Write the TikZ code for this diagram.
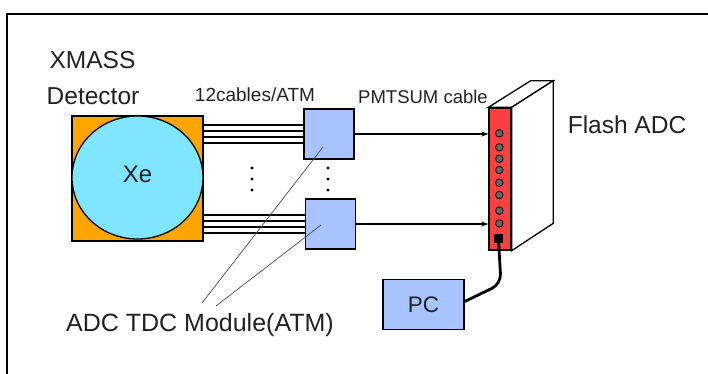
\documentclass[tikz,border=0pt]{standalone}
\usepackage{fontspec}
\setmainfont{Liberation Sans}
\usetikzlibrary{calc,arrows.meta}
\definecolor{detorange}{HTML}{FFA500}
\definecolor{xecyan}{HTML}{80E6FF}
\definecolor{atmblue}{HTML}{A8C4FF}
\definecolor{adcred}{HTML}{FF4040}
\definecolor{txtgray}{HTML}{222222}
\tikzset{
  box/.style={draw=black, line width=1.3pt, fill=atmblue, minimum width=50pt, minimum height=50pt, inner sep=0pt},
  cable/.style={line width=1.6pt},
  sig/.style={line width=1.1pt, -{Stealth[length=7pt,width=5pt]}},
  leader/.style={draw=black!70, line width=0.7pt},
  lbl/.style={text=txtgray, inner sep=0pt},
  port/.style={circle, draw=black, line width=0.8pt, fill=black!60, minimum size=7.5pt, inner sep=0pt},
}
\begin{document}
\begin{tikzpicture}[x=1pt,y=-1pt]
\clip (0,0) rectangle (708,373);
\useasboundingbox (0,0) rectangle (708,373);
\fill[white] (0,0) rectangle (708,373);
% frame (only left and top visible)
\draw[line width=2pt] (7,400) -- (7,14) -- (730,14);

% detector
\node[draw=black, line width=1.3pt, fill=detorange, minimum width=131pt, minimum height=125pt, inner sep=0pt] (det) at (137.5,178.5) {};
\draw[line width=1.3pt, fill=xecyan] (137.5,177.5) ellipse [x radius=65.5, y radius=61.5];
\node[lbl, font=\fontsize{24}{26}\selectfont] (xe) at (137.5,174) {Xe};
\node[lbl, font=\fontsize{24.5}{26}\selectfont] (xmass) at (92.5,60) {XMASS};
\node[lbl, font=\fontsize{24.5}{26}\selectfont] (detl) at (93,96) {Detector};

% ATM boxes
\node[box] (atm1) at (329,134) {};
\node[box] (atm2) at (330.5,224) {};

% cables
\foreach \d in {-9,-3,3,9} {
  \draw[cable] ($(det.east |- atm1)+(0,\d)$) -- ($(atm1.west)+(0,\d)$);
  \draw[cable] ($(det.east |- atm2)+(0,\d)$) -- ($(atm2.west)+(0,\d)$);
}
\node[lbl, font=\fontsize{19}{20}\selectfont] (cab) at (255,95) {12cables/ATM};

% dots
\foreach \yy in {168,179,190} {
  \fill (252,\yy) circle (1.6);
  \fill (328,\yy) circle (1.6);
}

% Flash ADC
\node[draw=black, line width=1.3pt, fill=adcred, minimum width=22pt, minimum height=142pt, inner sep=0pt] (fadc) at (500,179) {};
\draw[line width=1.3pt, fill=white] (fadc.north west) -- (530.7,80.7) -- (553.3,80.7) -- (fadc.north east) -- cycle;
\draw[line width=1.3pt, fill=white] (fadc.north east) -- (553.3,80.7) -- (553.3,223.3) -- (fadc.south east) -- cycle;
\foreach \yy in {133.3,147.3,158.7,170,182.7,195,210.7,223.3} {
  \node[port] at (499.3,\yy) {};
}
\node[fill=black, minimum size=9pt, inner sep=0pt] (sq) at (498.7,238.5) {};
\node[lbl, font=\fontsize{24.5}{26}\selectfont] (fl) at (627,125) {Flash ADC};
\node[lbl, font=\fontsize{18.5}{20}\selectfont] (pmt) at (423,97) {PMTSUM cable};

% signal arrows
\draw[sig] (atm1.east) -- (atm1.east -| fadc.west);
\draw[sig] (atm2.east) -- (atm2.east -| fadc.west);

% PC
\node[box, minimum width=81pt, minimum height=50pt] (pc) at (423.5,304.5) {};
\node[lbl, font=\fontsize{22.5}{24}\selectfont] (pct) at (423.5,305) {PC};
\draw[line width=2.8pt, rounded corners=10pt] (sq.south) -- (501,284) -- ($(pc.east)+(0,-3)$);

% ATM label and leaders
\node[lbl, font=\fontsize{25}{27}\selectfont] (atml) at (200,325) {ADC TDC Module(ATM)};
\coordinate (l1) at (202,303);
\coordinate (l2) at (216,306);
\coordinate (t1) at (323,147);
\coordinate (t2) at (321,225);
\draw[leader] (l1) -- (t1);
\draw[leader] (l2) -- (t2);
\end{tikzpicture}
\end{document}
